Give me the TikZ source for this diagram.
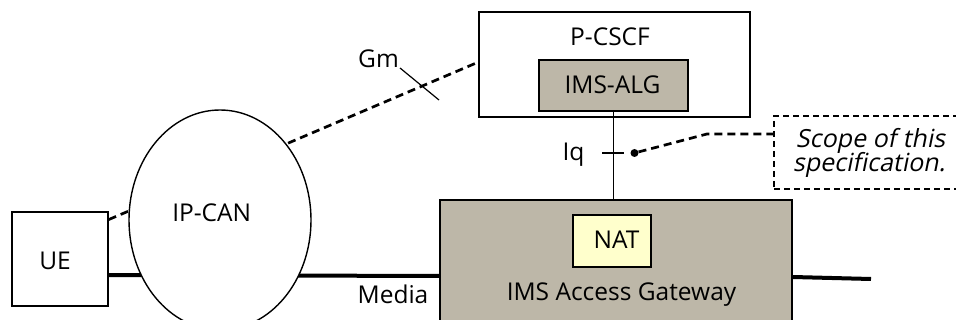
\documentclass[tikz,border=0pt]{standalone}
\usepackage{fontspec}
\setmainfont{Open Sans}
\newfontfamily\obliquefont[FakeSlant=0.2]{Open Sans}
\usetikzlibrary{shapes.geometric}
\definecolor{gwgray}{RGB}{189,183,168}
\definecolor{natyellow}{RGB}{255,255,204}
\begin{document}
\begin{tikzpicture}[x=1pt,y=-1pt,
  every node/.style={font=\fontsize{24.5}{29}\selectfont, inner sep=0pt},
  box/.style={draw, line width=1.4pt, inner sep=0pt},
  lbl/.style={anchor=base},
  itlbl/.style={anchor=base, font=\obliquefont\fontsize{25}{29}\selectfont},
  sig/.style={line width=2.7pt, dash pattern=on 8pt off 5pt},
  media/.style={line width=4pt},
  thinline/.style={line width=1.2pt},
  scopebox/.style={draw, line width=1.7pt, dash pattern=on 6pt off 4pt, inner sep=0pt}]
\useasboundingbox (0,0) rectangle (956,320);
\clip (0,0) rectangle (956,320);
% boxes
\node[box, minimum width=96pt, minimum height=94pt] (ue) at (60,259) {};
\node[box, minimum width=271pt, minimum height=105pt] (pcscf) at (614.5,64.5) {};
\node[box, fill=gwgray, minimum width=149pt, minimum height=51pt] (imsalg) at (613.5,85.5) {};
\node[box, fill=gwgray, minimum width=352pt, minimum height=140pt] (agw) at (616,270) {};
\node[box, fill=natyellow, minimum width=78pt, minimum height=52pt] (nat) at (612,241) {};
\node[scopebox, minimum width=196pt, minimum height=73pt] (scope) at (872,152.5) {};
% connectors behind the IP-CAN cloud
\draw[sig] (ue.39) -- (pcscf.179);
\draw[media] (ue.east |- 0,275) -- (agw.west |- 0,276);
% IP-CAN
\node[ellipse, draw, fill=white, line width=1.4pt, inner sep=0pt,
      minimum width=182pt, minimum height=220pt] (ipcan) at (220,220) {};
% other connectors
\coordinate (mediaR) at (871,279);
\draw[media] (agw.east |- 0,277) -- (mediaR);
\draw[thinline] (imsalg.south) -- (imsalg.south |- agw.north);
\coordinate (iqA) at (602,153);
\coordinate (iqB) at (624,153);
\draw[thinline] (iqA) -- (iqB);
\coordinate (gmA) at (400,68);
\coordinate (gmB) at (439,100);
\draw[thinline] (gmA) -- (gmB);
\node[circle, fill, minimum size=8pt] (dot) at (634.5,153) {};
\coordinate (bend) at (707,134);
\draw[sig] (dot) -- (bend) -- (scope.west |- 0,134);
% texts
\node[lbl] (uet) at (55,270) {UE};
\node[lbl] (ipt) at (211.7,221.5) {IP-CAN};
\node[lbl] (pct) at (610,46) {P-CSCF};
\node[lbl] (algt) at (612.5,94) {IMS-ALG};
\node[lbl] (gmt) at (378.5,68) {Gm};
\node[lbl] (iqt) at (573.5,161) {Iq};
\node[lbl] (medt) at (393,304) {Media};
\node[lbl] (natt) at (616.5,249) {NAT};
\node[lbl] (agwt) at (621.5,300.7) {IMS Access Gateway};
\node[itlbl] (sc1) at (870.5,148) {Scope of this};
\node[itlbl] (sc2) at (869,172) {specification.};
\end{tikzpicture}
\end{document}
